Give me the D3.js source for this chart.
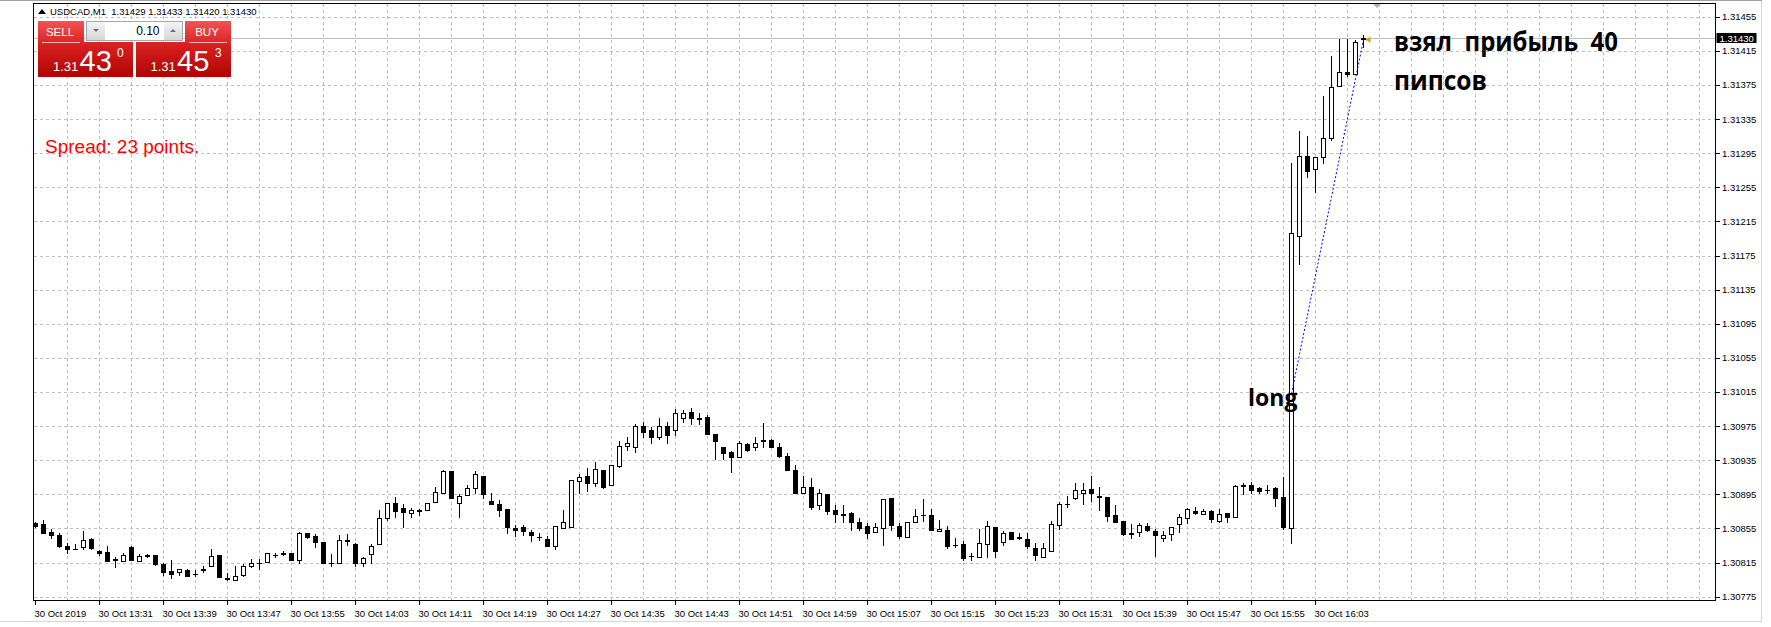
<!DOCTYPE html>
<html><head><meta charset="utf-8">
<script src="https://cdn.jsdelivr.net/npm/d3@7/dist/d3.min.js"></script>
<style>html,body{margin:0;padding:0;background:#fff;overflow:hidden}svg{display:block}</style>
</head><body>
<svg id="c" width="1771" height="627"></svg>
<script>
// ---------------- DATA ----------------
const symbolTitle = "USDCAD,M1  1.31429 1.31433 1.31420 1.31430";
const opens = [1.30861,1.30860,1.30851,1.30847,1.30834,1.30831,1.30833,1.30843,1.30828,1.30827,
1.30819,1.30817,1.30833,1.30817,1.30824,1.30824,1.30813,1.30805,1.30804,1.30806,
1.30802,1.30807,1.30811,1.30824,1.30797,1.30795,1.30801,1.30811,1.30815,1.30816,
1.30824,1.30826,1.30826,1.30818,1.30850,1.30846,1.30839,1.30815,1.30815,1.30842,
1.30837,1.30815,1.30825,1.30837,1.30867,1.30885,1.30879,1.30873,1.30877,1.30877,
1.30886,1.30897,1.30922,1.30885,1.30894,1.30902,1.30916,1.30887,1.30884,1.30878,
1.30855,1.30857,1.30851,1.30845,1.30843,1.30834,1.30855,1.30857,1.30911,1.30917,
1.30908,1.30924,1.30906,1.30928,1.30952,1.30950,1.30975,1.30970,1.30962,1.30975,
1.30970,1.30985,1.30992,1.30983,1.30986,1.30966,1.30950,1.30945,1.30939,1.30954,
1.30951,1.30957,1.30959,1.30950,1.30940,1.30924,1.30897,1.30904,1.30882,1.30895,
1.30877,1.30872,1.30873,1.30862,1.30858,1.30851,1.30855,1.30891,1.30858,1.30845,
1.30863,1.30871,1.30871,1.30852,1.30853,1.30836,1.30837,1.30823,1.30822,1.30837,
1.30857,1.30839,1.30851,1.30845,1.30843,1.30832,1.30822,1.30829,1.30859,1.30884,
1.30891,1.30897,1.30901,1.30893,1.30892,1.30871,1.30864,1.30850,1.30851,1.30858,
1.30852,1.30844,1.30848,1.30860,1.30867,1.30875,1.30872,1.30876,1.30864,1.30873,
1.30868,1.30906,1.30906,1.30902,1.30900,1.30902,1.30892,1.30855,1.31198,1.31292,
1.31277,1.31291,1.31313,1.31374,1.31390,1.31388,1.31429];
const highs = [1.30862,1.30865,1.30854,1.30850,1.30838,1.30837,1.30852,1.30844,1.30830,1.30835,
1.30821,1.30826,1.30834,1.30825,1.30825,1.30824,1.30815,1.30818,1.30808,1.30807,
1.30806,1.30811,1.30831,1.30824,1.30803,1.30811,1.30813,1.30819,1.30819,1.30826,
1.30826,1.30828,1.30826,1.30851,1.30850,1.30848,1.30839,1.30825,1.30847,1.30848,
1.30838,1.30822,1.30837,1.30877,1.30885,1.30892,1.30884,1.30879,1.30878,1.30885,
1.30904,1.30923,1.30922,1.30895,1.30906,1.30922,1.30916,1.30897,1.30888,1.30878,
1.30859,1.30859,1.30853,1.30850,1.30846,1.30858,1.30877,1.30912,1.30919,1.30926,
1.30933,1.30924,1.30929,1.30957,1.30962,1.30978,1.30980,1.30974,1.30985,1.30980,
1.30995,1.30994,1.30996,1.30990,1.30988,1.30966,1.30950,1.30946,1.30957,1.30955,
1.30962,1.30979,1.30960,1.30955,1.30943,1.30929,1.30917,1.30914,1.30901,1.30895,
1.30882,1.30882,1.30874,1.30867,1.30861,1.30861,1.30890,1.30891,1.30861,1.30862,
1.30878,1.30889,1.30878,1.30865,1.30858,1.30844,1.30840,1.30826,1.30854,1.30864,
1.30857,1.30852,1.30851,1.30850,1.30850,1.30838,1.30838,1.30864,1.30886,1.30893,
1.30908,1.30908,1.30917,1.30904,1.30892,1.30882,1.30864,1.30860,1.30861,1.30861,
1.30854,1.30852,1.30857,1.30872,1.30879,1.30880,1.30878,1.30877,1.30878,1.30873,
1.30906,1.30908,1.30910,1.30904,1.30906,1.30904,1.30915,1.31284,1.31321,1.31315,
1.31291,1.31362,1.31409,1.31429,1.31429,1.31428,1.31433];
const lows = [1.30857,1.30850,1.30844,1.30833,1.30826,1.30831,1.30831,1.30831,1.30824,1.30817,
1.30810,1.30817,1.30818,1.30817,1.30822,1.30812,1.30801,1.30797,1.30800,1.30799,
1.30799,1.30804,1.30811,1.30798,1.30795,1.30795,1.30799,1.30810,1.30808,1.30816,
1.30821,1.30824,1.30818,1.30815,1.30844,1.30833,1.30815,1.30811,1.30814,1.30836,
1.30811,1.30811,1.30815,1.30837,1.30865,1.30868,1.30857,1.30868,1.30871,1.30877,
1.30886,1.30897,1.30891,1.30869,1.30894,1.30897,1.30891,1.30884,1.30870,1.30850,
1.30846,1.30847,1.30840,1.30842,1.30834,1.30831,1.30855,1.30857,1.30897,1.30899,
1.30905,1.30902,1.30906,1.30927,1.30947,1.30945,1.30962,1.30955,1.30960,1.30955,
1.30965,1.30980,1.30978,1.30978,1.30966,1.30937,1.30936,1.30921,1.30939,1.30946,
1.30947,1.30951,1.30951,1.30939,1.30923,1.30897,1.30897,1.30878,1.30878,1.30872,
1.30862,1.30862,1.30853,1.30853,1.30844,1.30851,1.30836,1.30853,1.30844,1.30845,
1.30863,1.30864,1.30853,1.30852,1.30832,1.30833,1.30818,1.30818,1.30822,1.30822,
1.30822,1.30836,1.30843,1.30843,1.30832,1.30818,1.30821,1.30828,1.30854,1.30880,
1.30890,1.30884,1.30887,1.30877,1.30864,1.30862,1.30847,1.30844,1.30846,1.30852,
1.30823,1.30840,1.30841,1.30851,1.30861,1.30872,1.30872,1.30863,1.30862,1.30862,
1.30868,1.30895,1.30897,1.30897,1.30897,1.30881,1.30854,1.30838,1.31165,1.31267,
1.31250,1.31283,1.31310,1.31374,1.31386,1.31388,1.31420];
const closes = [1.30858,1.30850,1.30847,1.30835,1.30831,1.30831,1.30842,1.30832,1.30826,1.30817,
1.30818,1.30824,1.30818,1.30823,1.30823,1.30813,1.30804,1.30802,1.30807,1.30799,
1.30802,1.30806,1.30823,1.30798,1.30796,1.30799,1.30811,1.30814,1.30814,1.30826,
1.30824,1.30825,1.30818,1.30850,1.30845,1.30839,1.30815,1.30814,1.30842,1.30840,
1.30815,1.30820,1.30835,1.30867,1.30885,1.30876,1.30874,1.30877,1.30875,1.30885,
1.30898,1.30922,1.30891,1.30893,1.30902,1.30919,1.30895,1.30884,1.30877,1.30857,
1.30853,1.30852,1.30847,1.30845,1.30834,1.30858,1.30862,1.30912,1.30915,1.30908,
1.30925,1.30904,1.30929,1.30952,1.30955,1.30975,1.30968,1.30962,1.30975,1.30965,
1.30990,1.30990,1.30984,1.30985,1.30966,1.30957,1.30944,1.30939,1.30955,1.30947,
1.30955,1.30959,1.30951,1.30940,1.30924,1.30897,1.30904,1.30880,1.30897,1.30876,
1.30872,1.30871,1.30863,1.30856,1.30850,1.30857,1.30890,1.30859,1.30846,1.30862,
1.30870,1.30871,1.30853,1.30854,1.30835,1.30836,1.30820,1.30823,1.30838,1.30858,
1.30828,1.30850,1.30843,1.30844,1.30834,1.30824,1.30832,1.30860,1.30884,1.30884,
1.30900,1.30900,1.30897,1.30892,1.30870,1.30862,1.30848,1.30848,1.30859,1.30853,
1.30847,1.30847,1.30857,1.30868,1.30878,1.30873,1.30876,1.30866,1.30872,1.30868,
1.30905,1.30905,1.30900,1.30899,1.30900,1.30891,1.30857,1.31201,1.31292,1.31274,
1.31291,1.31313,1.31373,1.31390,1.31388,1.31425,1.31430];
const priceTicks = [1.31455,1.31415,1.31375,1.31335,1.31295,1.31255,1.31215,1.31175,1.31135,
1.31095,1.31055,1.31015,1.30975,1.30935,1.30895,1.30855,1.30815,1.30775];
const timeTickBars = [0,8,16,24,32,40,48,56,64,72,80,88,96,104,112,120,128,136,144,152,160];
const timeTickLabels = ["30 Oct 2019","30 Oct 13:31","30 Oct 13:39","30 Oct 13:47","30 Oct 13:55",
"30 Oct 14:03","30 Oct 14:11","30 Oct 14:19","30 Oct 14:27","30 Oct 14:35","30 Oct 14:43",
"30 Oct 14:51","30 Oct 14:59","30 Oct 15:07","30 Oct 15:15","30 Oct 15:23","30 Oct 15:31",
"30 Oct 15:39","30 Oct 15:47","30 Oct 15:55","30 Oct 16:03"];
const lastPrice = 1.31430;
const tradeBars = [157, 166];
const tradePrices = [1.31013, 1.31428];
const bidParts = ["1.31","43","0"];
const askParts = ["1.31","45","3"];
const lotSize = "0.10";
const spreadText = "Spread: 23 points.";
const noteLong = "long";
const noteProfit = ["взял  прибыль  40", "пипсов"];

// ---------------- LAYOUT ----------------
const svg = d3.select("#c");
const L = 33.5, R = 1715.5, T = 3.5, B = 600.5;
const x = d3.scaleLinear().domain([0, 166]).range([35.5, 1363.5]);
const y = d3.scaleLinear().domain([1.30775, 1.31455]).range([596.7, 16.7]);
const ry = v => Math.round(y(v)) + 0.5;
const FONT = "'Liberation Sans', Arial, sans-serif";

svg.append("rect").attr("width",1771).attr("height",627).attr("fill","#fff");
// window frame lines
svg.append("line").attr("x1",1761.5).attr("x2",1761.5).attr("y1",0).attr("y2",622).attr("stroke","#d8d8d8");
svg.append("line").attr("x1",0).attr("x2",1762).attr("y1",621.5).attr("y2",621.5).attr("stroke","#d8d8d8");
svg.append("line").attr("x1",0).attr("x2",1762).attr("y1",0.5).attr("y2",0.5).attr("stroke","#a0a0a0");

const grid = svg.append("g").attr("shape-rendering","crispEdges")
  .attr("stroke","#c0c0c0").attr("stroke-dasharray","3,3");
grid.selectAll("line.h").data(priceTicks).join("line")
  .attr("x1", L).attr("x2", R).attr("y1", ry).attr("y2", ry);
const vIdx = d3.range(4, 300, 4).filter(i => x(i) < R - 5);
grid.selectAll("line.v").data(vIdx).join("line")
  .attr("x1", i => x(i)).attr("x2", i => x(i)).attr("y1", T).attr("y2", B);

// last price line
svg.append("line").attr("x1", L).attr("x2", R).attr("y1", ry(lastPrice)).attr("y2", ry(lastPrice))
  .attr("stroke","#c0c0c0").attr("shape-rendering","crispEdges");

// chart shift marker
svg.append("path").attr("d","M1372,3 L1382,3 L1377,8 Z").attr("fill","#b0b0b0");

// candles
const bars = d3.range(opens.length);
const cg = svg.append("g").attr("shape-rendering","crispEdges");
cg.selectAll("line.w").data(bars).join("line")
  .attr("x1", i => x(i)).attr("x2", i => x(i))
  .attr("y1", i => Math.round(y(highs[i]))).attr("y2", i => Math.round(y(lows[i])) + 1)
  .attr("stroke","#000");
bars.forEach(i => {
  const top = Math.round(y(Math.max(opens[i], closes[i])));
  const bot = Math.round(y(Math.min(opens[i], closes[i])));
  const cx = x(i);
  if (bot - top < 1) {
    cg.append("line").attr("x1", cx - 2.5).attr("x2", cx + 2.5)
      .attr("y1", top + 0.5).attr("y2", top + 0.5).attr("stroke", "#000");
  } else {
    cg.append("rect").attr("x", cx - 2).attr("y", top + 0.5)
      .attr("width", 4).attr("height", bot - top)
      .attr("fill", closes[i] > opens[i] ? "#fff" : "#000").attr("stroke", "#000");
  }
});

// trade line (blue dotted)
svg.append("line")
  .attr("x1", x(tradeBars[0])).attr("y1", y(tradePrices[0]))
  .attr("x2", x(tradeBars[1])).attr("y2", y(tradePrices[1]))
  .attr("stroke","#0000ff").attr("stroke-width",1).attr("stroke-dasharray","2,2");
svg.append("path").attr("d", `M${x(166)+2},${y(tradePrices[1])} l5,-3 l0,6 Z`).attr("fill","#e0a000");

// frame
svg.append("rect").attr("x", L).attr("y", T).attr("width", R - L).attr("height", B - T)
  .attr("fill","none").attr("stroke","#000").attr("shape-rendering","crispEdges");

// price axis
const pa = svg.append("g");
pa.selectAll("line").data(priceTicks).join("line")
  .attr("x1", R).attr("x2", R + 4).attr("y1", ry).attr("y2", ry)
  .attr("stroke","#000").attr("shape-rendering","crispEdges");
pa.selectAll("text").data(priceTicks).join("text")
  .attr("x", R + 6.5).attr("y", d => y(d) + 3.5)
  .attr("font-family", FONT).attr("font-size", "9.5px").attr("fill","#000")
  .text(d => d.toFixed(5));
svg.append("rect").attr("x", R + 1).attr("y", ry(lastPrice) - 5.5).attr("width", 40).attr("height", 10).attr("fill","#000");
svg.append("text").attr("x", R + 4).attr("y", ry(lastPrice) + 3.5)
  .attr("font-family", FONT).attr("font-size","9.5px").attr("fill","#fff").text(lastPrice.toFixed(5));

// time axis
const ta = svg.append("g");
ta.selectAll("line").data(timeTickBars).join("line")
  .attr("x1", i => x(i)).attr("x2", i => x(i)).attr("y1", B).attr("y2", B + 4)
  .attr("stroke","#000").attr("shape-rendering","crispEdges");
ta.selectAll("text").data(timeTickBars).join("text")
  .attr("x", i => x(i) - 1).attr("y", 617)
  .attr("font-family", FONT).attr("font-size","9.5px").attr("fill","#000")
  .text((d, k) => timeTickLabels[k]);

// title
svg.append("path").attr("d","M38,14 L42,9 L46,14 Z").attr("fill","#000");
svg.append("text").attr("x", 50).attr("y", 15).attr("font-family", FONT).attr("font-size","9.5px")
  .attr("fill","#000").attr("xml:space","preserve").style("white-space","pre").text(symbolTitle);

// trade panel
const defs = svg.append("defs");
const rg = defs.append("linearGradient").attr("id","red").attr("gradientUnits","userSpaceOnUse")
  .attr("x1",0).attr("y1",21).attr("x2",0).attr("y2",77);
rg.append("stop").attr("offset","0").attr("stop-color","#f25454");
rg.append("stop").attr("offset","0.45").attr("stop-color","#d61e1e");
rg.append("stop").attr("offset","1").attr("stop-color","#b00404");
const gg = defs.append("linearGradient").attr("id","grey").attr("x1",0).attr("y1",0).attr("x2",0).attr("y2",1);
gg.append("stop").attr("offset","0").attr("stop-color","#f4f4f4");
gg.append("stop").attr("offset","1").attr("stop-color","#d6d6d6");

svg.append("path").attr("d","M38,21 H84 V42 H133 V77 H38 Z").attr("fill","url(#red)");
svg.append("path").attr("d","M136,42 H185 V21 H231 V77 H136 Z").attr("fill","url(#red)");
svg.append("line").attr("x1",42).attr("x2",80).attr("y1",42.5).attr("y2",42.5).attr("stroke","#f6b0b0");
svg.append("line").attr("x1",189).attr("x2",227).attr("y1",42.5).attr("y2",42.5).attr("stroke","#f6b0b0");
svg.append("rect").attr("x",86.5).attr("y",21.5).attr("width",96).attr("height",19).attr("fill","#fff").attr("stroke","#a8a8a8");
svg.append("rect").attr("x",87).attr("y",22).attr("width",18).attr("height",18).attr("fill","url(#grey)");
svg.append("rect").attr("x",164).attr("y",22).attr("width",18).attr("height",18).attr("fill","url(#grey)");
svg.append("path").attr("d","M93,29 L99,29 L96,32 Z").attr("fill","#6070a0");
svg.append("path").attr("d","M170,32 L176,32 L173,29 Z").attr("fill","#6070a0");
svg.append("text").attr("x",159.5).attr("y",35).attr("text-anchor","end").attr("font-family",FONT)
  .attr("font-size","12px").attr("fill","#000").text(lotSize);
const wt = (tx, ty, s, t, anchor) => svg.append("text").attr("x",tx).attr("y",ty)
  .attr("font-family",FONT).attr("font-size",s).attr("fill","#fff").attr("text-anchor",anchor||"start").text(t);
wt(60, 36, "11.5px", "SELL", "middle");
wt(207, 36, "11.5px", "BUY", "middle");
wt(53, 70.5, "13px", bidParts[0]); wt(79.5, 70.5, "29px", bidParts[1]); wt(117, 57, "12px", bidParts[2]);
wt(150.5, 70.5, "13px", askParts[0]); wt(177, 70.5, "29px", askParts[1]); wt(215, 57, "12px", askParts[2]);

// notes
svg.append("text").attr("x",45).attr("y",153).attr("font-family",FONT).attr("font-size","19px")
  .attr("fill","#ff0000").text(spreadText);
const NF = "'Open Sans', 'DejaVu Sans', sans-serif";
svg.append("text").attr("x",1248).attr("y",406).attr("font-family",NF).attr("font-weight","bold")
  .attr("font-size","23px").attr("fill","#000").text(noteLong);
const noteLen = [224, 93];
noteProfit.forEach((t, k) => svg.append("text").attr("x",1394).attr("y", k ? 89.5 : 51)
  .attr("font-family",NF).attr("font-weight","bold").attr("font-size","27px").attr("fill","#000")
  .attr("textLength", noteLen[k]).attr("lengthAdjust","spacingAndGlyphs")
  .attr("xml:space","preserve").style("white-space","pre").text(t));
</script>
</body></html>
